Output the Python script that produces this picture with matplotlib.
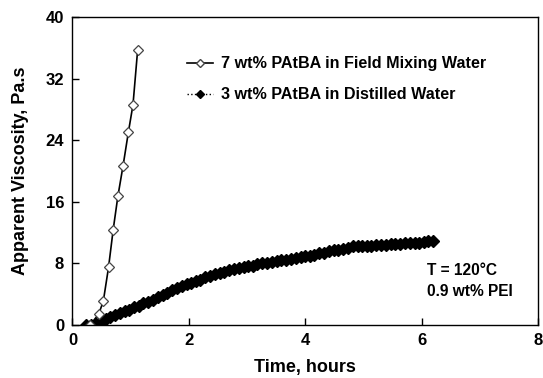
import matplotlib
matplotlib.use("Agg")
import matplotlib.pyplot as plt
from matplotlib.lines import Line2D

plt.rcParams['font.family'] = ['Liberation Sans', 'DejaVu Sans']
plt.rcParams['font.weight'] = 'bold'

t1 = [0.30, 0.45, 0.53, 0.62, 0.70, 0.78, 0.87, 0.96, 1.04, 1.12]
v1 = [0.0, 1.4, 3.1, 7.5, 12.4, 16.7, 20.7, 25.0, 28.6, 35.7]

t2 = [0.24, 0.32, 0.41, 0.49, 0.57, 0.65, 0.73, 0.82, 0.90, 0.98,
      1.06, 1.14, 1.22, 1.30, 1.39, 1.47, 1.55, 1.63, 1.71, 1.79,
      1.88, 1.96, 2.04, 2.12, 2.20, 2.28, 2.37, 2.45, 2.53, 2.61,
      2.69, 2.77, 2.86, 2.94, 3.02, 3.10, 3.18, 3.26, 3.35, 3.43,
      3.51, 3.59, 3.67, 3.75, 3.84, 3.92, 4.00, 4.08, 4.16, 4.24,
      4.33, 4.41, 4.49, 4.57, 4.65, 4.73, 4.82, 4.90, 4.98, 5.06,
      5.14, 5.22, 5.31, 5.39, 5.47, 5.55, 5.63, 5.71, 5.80, 5.88,
      5.96, 6.04, 6.12, 6.20]
v2 = [0.0, 0.0, 0.1, 0.5, 0.8, 1.0, 1.3, 1.5, 1.8, 2.0,
      2.3, 2.5, 2.8, 3.0, 3.3, 3.6, 3.9, 4.2, 4.5, 4.8,
      5.1, 5.3, 5.5, 5.7, 5.9, 6.2, 6.4, 6.6, 6.7, 6.9,
      7.1, 7.3, 7.4, 7.5, 7.6, 7.7, 7.9, 8.0, 8.1, 8.2,
      8.3, 8.4, 8.5, 8.6, 8.7, 8.8, 8.9, 9.0, 9.1, 9.3,
      9.4, 9.6, 9.7, 9.8, 9.9, 10.0, 10.2, 10.3, 10.3, 10.3,
      10.3, 10.4, 10.4, 10.4, 10.5, 10.5, 10.5, 10.6, 10.6, 10.7,
      10.7, 10.8, 10.9, 10.9]

labels = ["7 wt% PAtBA in Field Mixing Water", "3 wt% PAtBA in Distilled Water"]
xticks = [0, 2, 4, 6, 8]
yticks = [0, 8, 16, 24, 32, 40]

fig = plt.figure(figsize=(5.43, 3.78), dpi=100)
ax = fig.add_axes([0.1335, 0.1402, 0.857, 0.815])

ax.plot(t2, v2, linestyle=':', color='black', lw=1, marker='D', markersize=6,
        markerfacecolor='black', markeredgecolor='black')
ax.plot(t1, v1, linestyle='-', color='black', lw=1.2, marker='D', markersize=5,
        markerfacecolor='white', markeredgecolor='#444444', markeredgewidth=0.9)

ax.set_xlim(0, 8)
ax.set_ylim(0, 40)
ax.set_xticks(xticks)
ax.set_yticks(yticks)
ax.tick_params(direction='in', length=5, width=1, labelsize=12, pad=6)
for lab in ax.get_xticklabels() + ax.get_yticklabels():
    lab.set_fontweight('bold')
for s in ax.spines.values():
    s.set_linewidth(1)

ax.set_xlabel("Time, hours", fontsize=13, fontweight='bold', labelpad=8)
ax.set_ylabel("Apparent Viscosity, Pa.s", fontsize=13, fontweight='bold', labelpad=12)

h1 = Line2D([], [], linestyle='-', color='black', lw=1.2, marker='D', markersize=4.5,
            markerfacecolor='white', markeredgecolor='#444444')
h2 = Line2D([], [], linestyle=':', color='black', lw=1, marker='D', markersize=4.5,
            markerfacecolor='black')
ax.legend([h1, h2], labels, loc='upper left', bbox_to_anchor=(0.245, 0.872),
          frameon=False, handlelength=1.65, labelspacing=1.0,
          handletextpad=0.47, borderpad=0, borderaxespad=0,
          prop={'weight': 'bold', 'size': 11.6})

ax.text(6.10, 7.1, "T = 120\u00b0C", fontsize=11.2, fontweight='bold', va='center')
ax.text(6.10, 4.3, "0.9 wt% PEI", fontsize=11.2, fontweight='bold', va='center')

fig.savefig("out.png", dpi=100)
